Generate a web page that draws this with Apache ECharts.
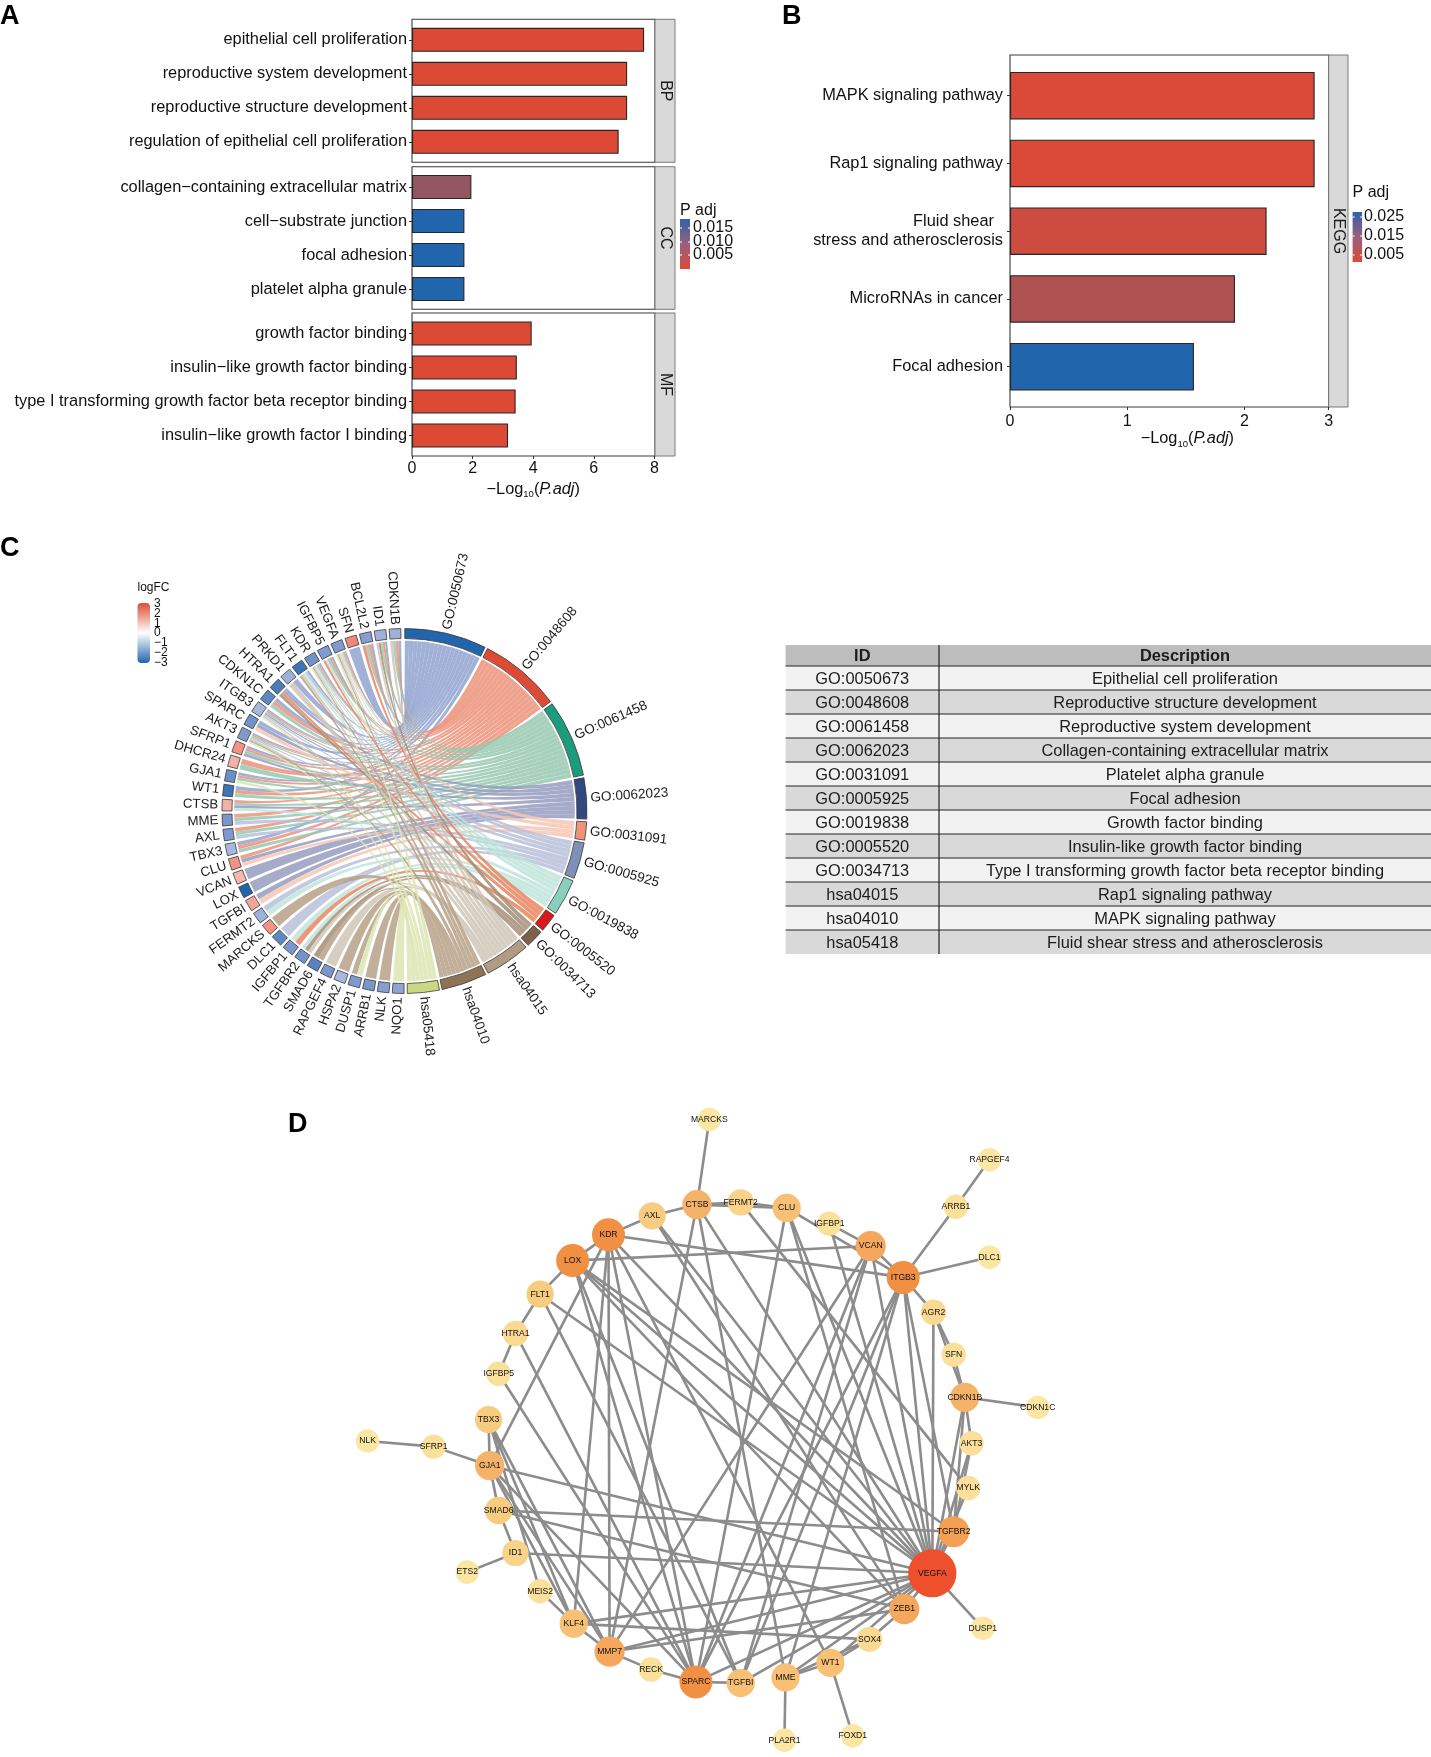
<!DOCTYPE html>
<html><head><meta charset="utf-8">
<style>html,body{margin:0;padding:0;background:#fff}#c{width:1431px;height:1757px}</style>
<script src="https://cdn.jsdelivr.net/npm/echarts@6/dist/echarts.min.js"></script>
</head><body><div id="c"></div>
<script>
// ---------- DATA ----------
const bpTerms = ['epithelial cell proliferation','reproductive system development','reproductive structure development','regulation of epithelial cell proliferation'];
const bpValues = [7.66,7.1,7.1,6.82];
const ccTerms = ['collagen\u2212containing extracellular matrix','cell\u2212substrate junction','focal adhesion','platelet alpha granule'];
const ccValues = [1.96,1.73,1.73,1.73];
const mfTerms = ['growth factor binding','insulin\u2212like growth factor binding','type I transforming growth factor beta receptor binding','insulin\u2212like growth factor I binding'];
const mfValues = [3.95,3.46,3.42,3.17];
const keggTerms = ['MAPK signaling pathway','Rap1 signaling pathway','Fluid shear  \nstress and atherosclerosis','MicroRNAs in cancer','Focal adhesion'];
const keggValues = [2.6,2.6,2.19,1.92,1.57];
const keggTickLabels = ['0','1','2','3'];
const legendTicksA = ['0.015','0.010','0.005'];
const legendTicksB = ['0.025','0.015','0.005'];
const logfcTicks = ['3','2','1','0','\u22121','\u22122','\u22123'];

const tableIds = ['GO:0050673','GO:0048608','GO:0061458','GO:0062023','GO:0031091','GO:0005925','GO:0019838','GO:0005520','GO:0034713','hsa04015','hsa04010','hsa05418'];
const tableDescriptions = ['Epithelial cell proliferation','Reproductive structure development','Reproductive system development','Collagen-containing extracellular matrix','Platelet alpha granule','Focal adhesion','Growth factor binding','Insulin-like growth factor binding','Type I transforming growth factor beta receptor binding','Rap1 signaling pathway','MAPK signaling pathway','Fluid shear stress and atherosclerosis'];

const chordTermColors = ['#2166AC','#DC4B35','#1A9C7D','#33487E','#EE9478','#7F8FB8','#88CFBC','#D7191C','#7E6148','#B09C85','#8F7355','#CAD881'];
const ribbonColors = ['#92A3D0','#EC9279','#98C8B2','#989CC1','#F6C7B4','#B8BFD9','#BFE5DB','#E88560','#A58E77','#D0C5B7','#B7A188','#DEE5B4'];
const geneNames = ['CDKN1B','ID1','BCL2L2','SFN','VEGFA','IGFBP5','KDR','FLT1','PRKD1','HTRA1','CDKN1C','ITGB3','SPARC','AKT3','SFRP1','DHCR24','GJA1','WT1','CTSB','MME','AXL','TBX3','CLU','VCAN','LOX','TGFBI','FERMT2','MARCKS','DLC1','IGFBP1','TGFBR2','SMAD6','RAPGEF4','HSPA2','DUSP1','ARRB1','NLK','NQO1'];
const geneLogFC = [-1.2,-1.2,-1.5,2.0,-1.6,-1.6,-1.8,-2.6,-1.2,-2.4,-2.1,-1.1,-1.8,-1.6,1.8,1.3,-1.9,-2.6,1.3,-1.7,-1.6,-1.1,1.8,1.2,-3,1.5,-1.2,1.8,-2.1,-1.7,-1.8,-2.2,-1.7,-1.1,-1.6,-1.7,-1.5,-1.4];
const termMembers = [
 ['CDKN1B','ID1','BCL2L2','SFN','VEGFA','IGFBP5','KDR','FLT1','PRKD1','CDKN1C','HTRA1','ITGB3','SPARC','AKT3','SFRP1','GJA1','WT1','TBX3'],
 ['CDKN1B','ID1','BCL2L2','VEGFA','IGFBP5','KDR','ITGB3','CDKN1C','AKT3','SFRP1','DHCR24','GJA1','WT1','CTSB','MME','AXL','TBX3','CLU'],
 ['CDKN1B','ID1','BCL2L2','VEGFA','IGFBP5','KDR','CDKN1C','ITGB3','AKT3','SFRP1','DHCR24','GJA1','WT1','CTSB','MME','AXL','TBX3'],
 ['HTRA1','ITGB3','SPARC','SFRP1','CTSB','CLU','VCAN','LOX','TGFBI'],
 ['VEGFA','SPARC','CLU','TGFBI'],
 ['KDR','FLT1','ITGB3','AKT3','MME','AXL','FERMT2','DLC1'],
 ['VEGFA','IGFBP5','KDR','FLT1','CTSB','FERMT2','IGFBP1','TGFBR2'],
 ['BCL2L2','IGFBP5','HTRA1','IGFBP1'],
 ['ID1','HTRA1','TGFBR2','SMAD6'],
 ['CDKN1B','ID1','VEGFA','KDR','FLT1','PRKD1','ITGB3','AKT3','TGFBR2','RAPGEF4'],
 ['VEGFA','KDR','FLT1','AKT3','MARCKS','SMAD6','HSPA2','DUSP1','ARRB1','NLK'],
 ['VEGFA','KDR','ITGB3','AKT3','GJA1','DUSP1','NQO1']
];

const nodeNames = ['MARCKS','RAPGEF4','ARRB1','DLC1','ITGB3','VCAN','IGFBP1','CLU','FERMT2','CTSB','AXL','KDR','LOX','FLT1','HTRA1','IGFBP5','TBX3','NLK','SFRP1','GJA1','SMAD6','ID1','ETS2','MEIS2','KLF4','MMP7','RECK','SPARC','TGFBI','MME','WT1','FOXD1','PLA2R1','SOX4','ZEB1','DUSP1','VEGFA','TGFBR2','MYLK','AKT3','CDKN1C','CDKN1B','SFN','AGR2'];
const nodeX = [633,883,853,883,806,777,740,702,661,622,582,543,511,482,460,445,436,328,387,437,445,460,417,482,512,544,581,621,661,701,741,761,700,776,807,877,832,851,864,867,926,861,851,833];
const nodeY = [999,1035,1077,1122,1140,1112,1092,1078,1073,1075,1085,1102,1125,1155,1190,1226,1267,1286,1291,1308,1348,1386,1403,1420,1449,1474,1490,1501,1502,1497,1484,1549,1553,1463,1436,1453,1404,1367,1328,1288,1256,1247,1209,1171];
const nodeDegree = [1,1,2,1,11,8,2,6,4,7,5,11,11,5,3,2,5,1,2,7,5,4,1,2,6,8,2,11,6,6,6,1,1,3,8,1,27,9,2,2,1,7,2,3];
const edges = [
 'MARCKS|CTSB','RAPGEF4|ARRB1','ARRB1|ITGB3','DLC1|ITGB3','NLK|SFRP1','SFRP1|GJA1','ETS2|ID1','CDKN1C|CDKN1B','DUSP1|VEGFA','FOXD1|WT1','PLA2R1|MME',
 'CTSB|AXL','AXL|KDR','CTSB|FERMT2','FERMT2|CLU','CTSB|CLU','KDR|LOX','LOX|FLT1','FLT1|HTRA1','HTRA1|IGFBP5','IGFBP1|VCAN','VCAN|ITGB3','ITGB3|AGR2','AGR2|SFN','SFN|CDKN1B','AGR2|CDKN1B','CDKN1B|AKT3','AKT3|TGFBR2','CDKN1B|TGFBR2','MYLK|VEGFA','TGFBR2|VEGFA','VEGFA|ZEB1','ZEB1|SOX4','SOX4|WT1','SOX4|MME','WT1|MME','TGFBI|SPARC','SPARC|RECK','RECK|MMP7','MMP7|KLF4','KLF4|MEIS2','ID1|SMAD6','SMAD6|GJA1','GJA1|TBX3',
 'KDR|ITGB3','LOX|VCAN','KDR|GJA1','KDR|MMP7','KDR|SPARC','KDR|WT1','KDR|VEGFA','KDR|KLF4',
 'LOX|VEGFA','LOX|TGFBR2','LOX|SPARC','LOX|TGFBI','LOX|ZEB1','FLT1|VEGFA','FLT1|TGFBI','HTRA1|SPARC','IGFBP5|SPARC',
 'AXL|VEGFA','AXL|ZEB1','CTSB|MMP7','CTSB|VEGFA','CTSB|MME','FERMT2|MYLK','CLU|SPARC','CLU|VEGFA','CLU|ZEB1','CLU|ITGB3',
 'VCAN|MMP7','VCAN|SPARC','VCAN|TGFBI','VCAN|VEGFA','IGFBP1|VEGFA','ITGB3|VEGFA','ITGB3|TGFBR2','ITGB3|TGFBI','ITGB3|MME','ITGB3|SPARC',
 'AGR2|VEGFA','AKT3|VEGFA','CDKN1B|VEGFA','TBX3|KLF4','TBX3|MMP7','TBX3|MEIS2','GJA1|VEGFA','GJA1|KLF4','GJA1|SPARC','GJA1|MMP7',
 'SMAD6|TGFBR2','SMAD6|ZEB1','ID1|VEGFA','KLF4|VEGFA','KLF4|SOX4','MMP7|VEGFA','MMP7|ZEB1','SPARC|VEGFA','TGFBI|VEGFA','MME|VEGFA','WT1|VEGFA'
];

// ---------- HELPERS ----------
const FONT = '"Liberation Sans", Arial, sans-serif';
const TXT = '#111';
const RED = [220,74,54], BLUE = [33,102,172];
const mix = (a,b,t)=>`rgb(${a.map((v,i)=>Math.round(v+(b[i]-v)*t)).join(',')})`;
const padjColor = (v,vmin)=> mix(RED,BLUE,Math.pow(Math.pow(10,-v)/Math.pow(10,-vmin),1.8));
const MIDBLUE=[134,158,208];
const logfcColor = v => v>=0 ? mix([255,255,255],[230,75,53],v/3) : (v>-1.5 ? mix([255,255,255],MIDBLUE,-v/1.5) : mix(MIDBLUE,BLUE,(-v-1.5)/1.5));

// ---------- BAR PANELS ----------
const minA = Math.min(...bpValues,...ccValues,...mfValues);
const minB = Math.min(...keggValues);
const panelsA = [
 {cats:bpTerms,vals:bpValues,top:19.3,bottom:162.3,strip:'BP'},
 {cats:ccTerms,vals:ccValues,top:166.7,bottom:309.3,strip:'CC'},
 {cats:mfTerms,vals:mfValues,top:313,bottom:456,strip:'MF'}
];
const grids=[],xAxes=[],yAxes=[],series=[],graphics=[];
const LABEL_SIZE=16.35;
const frame=(x0,y0,x1,y1)=>({type:'rect',z:0,shape:{x:x0,y:y0,width:x1-x0,height:y1-y0},style:{fill:'none',stroke:'#3a3a3a',lineWidth:1.1}});
const strip=(x0,y0,x1,y1,t)=>[
 {type:'rect',z:0,shape:{x:x0,y:y0,width:x1-x0,height:y1-y0},style:{fill:'#D9D9D9',stroke:'#7a7a7a',lineWidth:1}},
 {type:'text',z:1,x:(x0+x1)/2,y:(y0+y1)/2,rotation:-Math.PI/2,style:{text:t,fontFamily:FONT,fontSize:16,fill:'#1a1a1a',align:'center',verticalAlign:'middle'}}];
const xName = '\u2212Log{s|10}{i|(}{j|P.adj}{i|)}';
const nameStyle = {fontFamily:FONT,fontSize:LABEL_SIZE,color:TXT,rich:{s:{fontFamily:FONT,fontSize:9.5,color:TXT,padding:[10,0,0,0]},i:{fontFamily:FONT,fontSize:LABEL_SIZE,color:TXT},j:{fontFamily:FONT,fontSize:LABEL_SIZE,fontStyle:'italic',color:TXT}}};
const addBar=(cfg)=>{
 const idx=grids.length;
 grids.push({left:cfg.left,width:cfg.width,top:cfg.gridTop,height:cfg.gridH,containLabel:false});
 xAxes.push({gridIndex:idx,type:'value',min:0,max:cfg.max,interval:cfg.interval,show:cfg.showX,offset:cfg.offset||0,
  axisLine:{show:false},splitLine:{show:false},axisTick:{show:true,length:3,lineStyle:{color:'#333'}},
  axisLabel:{show:true,fontFamily:FONT,fontSize:16,color:TXT,margin:cfg.xMargin,showMaxLabel:true,formatter:cfg.fmt},
  name:cfg.showX?xName:'',nameLocation:'middle',nameGap:cfg.nameGap,nameTextStyle:Object.assign({},nameStyle,{padding:[0,0,0,cfg.namePad||0]})});
 yAxes.push({gridIndex:idx,type:'category',inverse:true,data:cfg.cats,
  axisLine:{show:false},axisTick:{show:true,length:3,alignWithLabel:true,lineStyle:{color:'#333'}},splitLine:{show:false},
  axisLabel:{fontFamily:FONT,fontSize:LABEL_SIZE,color:TXT,margin:cfg.yMargin,lineHeight:19.5,align:'right',interval:0}});
 series.push({type:'bar',xAxisIndex:idx,yAxisIndex:idx,barWidth:cfg.barW,silent:true,animation:false,
  data:cfg.vals.map(v=>({value:v,itemStyle:{color:padjColor(v,cfg.vmin),borderColor:'#262626',borderWidth:1.1}}))});
};
panelsA.forEach((p,i)=>{
 addBar({left:412,width:242.4,gridTop:(p.top+p.bottom)/2-68,gridH:136,cats:p.cats,vals:p.vals,max:8,interval:2,showX:i===2,offset:456-((p.top+p.bottom)/2+68),nameGap:23.5,xMargin:5,yMargin:5,barW:24,vmin:minA});
 graphics.push(frame(412,p.top,655,p.bottom),...strip(655,p.top,675,p.bottom,p.strip));
});
addBar({left:1010,width:318.7,gridTop:61.8,gridH:338.7,cats:keggTerms,vals:keggValues,max:2.72,interval:1,showX:true,offset:6.5,nameGap:17.5,namePad:36,xMargin:7,yMargin:7,barW:47.5,vmin:minB,fmt:(v,i)=>keggTickLabels[i]});
graphics.push(frame(1010,55,1328.7,407),...strip(1328.7,55,1348,407,'KEGG'));

// legends
const padjLegend=(x,y,w,h,title,ticks,tickY,tx,ty)=>{
 graphics.push({type:'text',x:x,y:ty,style:{text:title,fontFamily:FONT,fontSize:16,fill:TXT,align:'left',verticalAlign:'middle'}});
 graphics.push({type:'rect',shape:{x,y,width:w,height:h},style:{fill:new echarts.graphic.LinearGradient(0,0,0,1,[{offset:0,color:'#2E62AC'},{offset:.5,color:'#9A5F7A'},{offset:1,color:'#DC4A36'}])}});
 ticks.forEach((t,i)=>{
  graphics.push({type:'text',x:tx,y:tickY[i],style:{text:t,fontFamily:FONT,fontSize:16,fill:TXT,align:'left',verticalAlign:'middle'}});
  graphics.push({type:'line',shape:{x1:x,y1:tickY[i],x2:x+2,y2:tickY[i]},style:{stroke:'#fff',lineWidth:1}});
  graphics.push({type:'line',shape:{x1:x+w-2,y1:tickY[i],x2:x+w,y2:tickY[i]},style:{stroke:'#fff',lineWidth:1}});
 });
};
padjLegend(680,219,10,50,'P adj',legendTicksA,[228,242,255],693,211);
padjLegend(1352.6,212,9.5,50,'P adj',legendTicksB,[217,236,255],1364,192.7);

// panel letters
[['A',0,17],['B',782,17],['C',0,549],['D',288,1125]].forEach(([t,x,y])=>graphics.push({type:'text',x,y,style:{text:t,fontFamily:FONT,fontWeight:'bold',fontSize:27,fill:'#000',align:'left',verticalAlign:'middle'}}));

// logFC legend
graphics.push({type:'text',x:137.5,y:588,style:{text:'logFC',fontFamily:FONT,fontSize:12,fill:TXT,align:'left',verticalAlign:'middle'}});
graphics.push({type:'rect',shape:{x:137.5,y:603,width:12.5,height:60,r:4},style:{fill:new echarts.graphic.LinearGradient(0,0,0,1,[{offset:0,color:'#DC4F33'},{offset:.5,color:'#FFFFFF'},{offset:1,color:'#2166AC'}])}});
logfcTicks.forEach((t,i)=>graphics.push({type:'text',x:154,y:604+i*9.7,style:{text:t,fontFamily:FONT,fontSize:12,fill:TXT,align:'left',verticalAlign:'middle'}}));

// ---------- CHORD (custom series) ----------
const CX=404.5, CY=811, RO=182.5, RI=172.5, RR=170.3;
const termUnit=1.45, termGap=0.85;
const termSpans=[]; let th=0.1;
termMembers.forEach(m=>{const s=th,e=th+m.length*termUnit;termSpans.push([s,e]);th=e+termGap;});
const geneStep=4.73, geneW=3.7, geneTop=358.85;
const geneSpan=i=>[geneTop-i*geneStep-geneW,geneTop-i*geneStep];
const geneTerms=geneNames.map(g=>termMembers.map((m,t)=>m.includes(g)?t:-1).filter(t=>t>=0));
const pt=(deg,r)=>{const a=deg*Math.PI/180;return [CX+r*Math.sin(a),CY-r*Math.cos(a)];};
const ribbons=[];
termMembers.forEach((m,t)=>{
 const sorted=m.slice().sort((a,b)=>geneNames.indexOf(a)-geneNames.indexOf(b));
 const [s,e]=termSpans[t],w=(e-s)/sorted.length;
 sorted.forEach((g,k)=>{
  const gi=geneNames.indexOf(g),gts=geneTerms[gi],[gl,gh]=geneSpan(gi),gw=(gh-gl)/gts.length,pos=gts.indexOf(t);
  ribbons.push({t,a0:s+k*w,a1:s+(k+1)*w,g1:gh-pos*gw,g0:gh-(pos+1)*gw});
 });
});
const ribbonPath=r=>{
 const A=pt(r.a0,RR),B=pt(r.a1,RR),C=pt(r.g0,RR),D=pt(r.g1,RR);
 return `M${A[0]} ${A[1]}A${RR} ${RR} 0 0 1 ${B[0]} ${B[1]}Q${CX} ${CY} ${C[0]} ${C[1]}A${RR} ${RR} 0 0 1 ${D[0]} ${D[1]}Q${CX} ${CY} ${A[0]} ${A[1]}Z`;
};
const sectorOf=(a0,a1,fill)=>({type:'sector',shape:{cx:CX,cy:CY,r0:RI,r:RO,startAngle:(a0-90)*Math.PI/180,endAngle:(a1-90)*Math.PI/180,clockwise:true},style:{fill,stroke:'#3a3a3a',lineWidth:.8}});
const radialLabel=(text,deg,r,size)=>{
 const p=pt(deg,r),right=deg<180;
 return {type:'text',x:p[0],y:p[1],rotation:(right?90-deg:270-deg)*Math.PI/180,style:{text,x:0,y:0,fontFamily:FONT,fontSize:size,fill:'#1c1c1c',align:right?'left':'right',verticalAlign:'middle'}};
};
series.push({type:'custom',coordinateSystem:'none',silent:true,animation:false,z:3,data:ribbons.map((r,i)=>[i]),
 renderItem:(p)=>{const r=ribbons[p.dataIndex];return {type:'path',shape:{pathData:ribbonPath(r)},style:{fill:ribbonColors[r.t],opacity:.85}};}});
series.push({type:'custom',coordinateSystem:'none',silent:true,animation:false,z:4,data:tableIds.map((t,i)=>[i]),
 renderItem:(p)=>{const i=p.dataIndex,[s,e]=termSpans[i];return {type:'group',children:[sectorOf(s,e,chordTermColors[i]),radialLabel(tableIds[i],(s+e)/2,RO+4,13.6)]};}});
series.push({type:'custom',coordinateSystem:'none',silent:true,animation:false,z:4,data:geneNames.map((t,i)=>[i]),
 renderItem:(p)=>{const i=p.dataIndex,[s,e]=geneSpan(i);return {type:'group',children:[sectorOf(s,e,logfcColor(geneLogFC[i])),radialLabel(geneNames[i],(s+e)/2,RO+4,13.2)]};}});

// ---------- TABLE (custom series) ----------
const TX0=785.6,TX1=939,TX2=1431,TY0=645,THEAD=21,TROW=24;
const cell=(x,y,w,h,fill)=>({type:'rect',shape:{x,y,width:w,height:h},style:{fill}});
const ctext=(x,y,text,weight)=>({type:'text',x,y:y+1,style:{text,fontFamily:FONT,fontSize:16.4,fontWeight:weight||'normal',fill:'#1c1c1c',align:'center',verticalAlign:'middle'}});
const hline=(y)=>({type:'line',shape:{x1:TX0,y1:y,x2:TX2,y2:y},style:{stroke:'#222',lineWidth:1.2}});
series.push({type:'custom',coordinateSystem:'none',silent:true,animation:false,z:3,data:[[-1]].concat(tableIds.map((t,i)=>[i])),
 renderItem:(p)=>{
  const i=p.dataIndex-1;
  if(i<0) return {type:'group',children:[cell(TX0,TY0,TX2-TX0,THEAD,'#BDBDBD'),ctext((TX0+TX1)/2,TY0+THEAD/2,'ID','bold'),ctext((TX1+TX2)/2,TY0+THEAD/2,'Description','bold'),{type:'line',shape:{x1:TX1,y1:TY0,x2:TX1,y2:TY0+THEAD},style:{stroke:'#222',lineWidth:1.2}}]};
  const y=TY0+THEAD+i*TROW;
  const ch=[cell(TX0,y,TX2-TX0,TROW,i%2?'#D9D9D9':'#F2F2F2'),ctext((TX0+TX1)/2,y+TROW/2,tableIds[i]),ctext((TX1+TX2)/2,y+TROW/2,tableDescriptions[i]),hline(y)];
  ch.push({type:'line',shape:{x1:TX1,y1:y,x2:TX1,y2:y+TROW},style:{stroke:'#222',lineWidth:1.2}});
  return {type:'group',children:ch};
 }});

// ---------- NETWORK (graph on hidden value axes) ----------
const netIdx=grids.length;
grids.push({left:0,top:0,width:1431,height:1757});
xAxes.push({gridIndex:netIdx,type:'value',min:0,max:1277,show:false});
yAxes.push({gridIndex:netIdx,type:'value',min:0,max:1568,inverse:true,show:false});
const degStops=[[1,[251,231,163]],[5,[248,204,128]],[8,[244,167,93]],[11,[241,143,66]],[27,[238,79,45]]];
const degColor=d=>{
 for(let i=1;i<degStops.length;i++) if(d<=degStops[i][0]) return mix(degStops[i-1][1],degStops[i][1],(d-degStops[i-1][0])/(degStops[i][0]-degStops[i-1][0]));
};
series.push({type:'graph',coordinateSystem:'cartesian2d',xAxisIndex:netIdx,yAxisIndex:netIdx,layout:'none',silent:true,animation:false,z:5,
 data:nodeNames.map((n,i)=>({name:n,value:[nodeX[i],nodeY[i]],symbolSize:23.5+0.95*(nodeDegree[i]-1),itemStyle:{color:degColor(nodeDegree[i])}})),
 links:edges.map(e=>{const [s,t]=e.split('|');return {source:s,target:t};}),
 label:{show:true,position:'inside',fontFamily:FONT,fontSize:8.6,color:'#111',formatter:'{b}'},
 lineStyle:{color:'#8C8C8C',width:2.6,opacity:1,curveness:0},
 emphasis:{disabled:true}});

const chart=echarts.init(document.getElementById('c'));
chart.setOption({backgroundColor:'#fff',animation:false,grid:grids,xAxis:xAxes,yAxis:yAxes,series,graphic:{elements:graphics},tooltip:{show:false}});
</script></body></html>
